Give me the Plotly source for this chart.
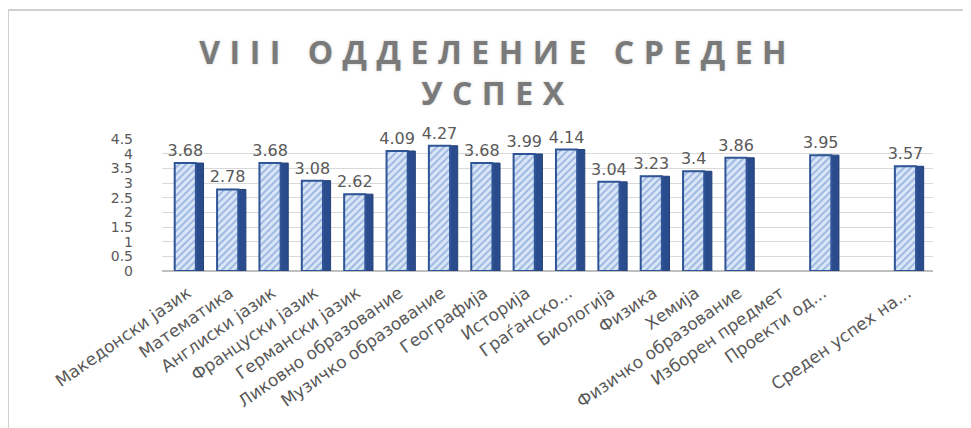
import plotly.graph_objects as go

categories = ["Македонски јазик", "Математика", "Англиски јазик", "Француски јазик",
              "Германски јазик", "Ликовно образование", "Музичко образование", "Географија",
              "Историја", "Граѓанско...", "Биологија", "Физика", "Хемија",
              "Физичко образование", "Изборен предмет", "Проекти од...", " ", "Среден успех на..."]
values = [3.68, 2.78, 3.68, 3.08, 2.62, 4.09, 4.27, 3.68, 3.99, 4.14, 3.04, 3.23, 3.4,
          3.86, None, 3.95, None, 3.57]
labels = ["" if v is None else f"{v:g}" for v in values]
y_ticks = [0, 0.5, 1, 1.5, 2, 2.5, 3, 3.5, 4, 4.5]
y_ticklabels = ["0", "0.5", "1", "1.5", "2", "2.5", "3", "3.5", "4", "4.5"]
title_lines = ["VIII ОДДЕЛЕНИЕ СРЕДЕН", "УСПЕХ"]

W, H = 971, 428
L, R, T, B = 154, 46, 131, 165

fig = go.Figure()
# dark side of the pseudo-3D bars
fig.add_trace(go.Bar(
    x=categories, y=values, width=0.5, offset=-0.12,
    marker=dict(color="#2b4c8c", line=dict(color="#23407a", width=1)),
    hoverinfo="skip", showlegend=False,
))
# front face with hatch
fig.add_trace(go.Bar(
    x=categories, y=values, width=0.5, offset=-0.3,
    marker=dict(
        color="#c5d9f1",
        line=dict(color="#2f5597", width=2),
        pattern=dict(shape="/", fgcolor="#5a84cc", bgcolor="#d9e6f6", size=5, solidity=0.35),
    ),
    text=labels, textposition="outside", cliponaxis=False, constraintext="none",
    textfont=dict(family="DejaVu Sans", size=16, color="#595959"),
    showlegend=False,
))

px_x = lambda p: (p - L) / (W - L - R)
px_y = lambda p: (H - B - p) / (H - T - B)

title_font = dict(family="Open Sans", size=32, color="#7a7a7a", weight="bold",
                  shadow="0px 0px 3px rgba(120,120,120,0.35)")
annotations = [
    dict(text=title_lines[0], x=px_x(489), y=px_y(44), xref="paper", yref="paper",
         xanchor="center", yanchor="middle", showarrow=False, font=title_font),
    dict(text=title_lines[1], x=px_x(489), y=px_y(84), xref="paper", yref="paper",
         xanchor="center", yanchor="middle", showarrow=False, font=title_font),
]

fig.update_layout(
    width=W, height=H,
    margin=dict(l=L, r=R, t=T, b=B, autoexpand=False),
    paper_bgcolor="white", plot_bgcolor="white",
    barmode="overlay", bargap=0.5,
    annotations=annotations,
    xaxis=dict(type="category", tickangle=-35, showgrid=False, showline=False,
               ticks="", ticklabelstandoff=8,
               tickfont=dict(family="DejaVu Sans", size=17, color="#595959"),
               range=[-0.6, len(categories) - 0.4]),
    yaxis=dict(range=[0, 4.5], tickvals=y_ticks, ticktext=y_ticklabels,
               showgrid=True, gridcolor="#d9d9d9", gridwidth=1,
               zeroline=True, zerolinecolor="#bfbfbf", zerolinewidth=2,
               showline=False, ticks="", ticklabelstandoff=28,
               tickfont=dict(family="DejaVu Sans", size=14, color="#595959")),
    shapes=[
        dict(type="line", xref="paper", yref="paper", x0=px_x(0), x1=px_x(W), y0=px_y(2), y1=px_y(2),
             line=dict(color="#d0d0d0", width=2)),
        dict(type="line", xref="paper", yref="paper", x0=px_x(0), x1=px_x(0), y0=px_y(2), y1=px_y(H),
             line=dict(color="#d0d0d0", width=2)),
    ],
)

post = """
var gd = document.getElementById('{plot_id}');
gd.querySelectorAll('.annotation-text').forEach(function(t){
  t.style.letterSpacing = '9.5px';
});
"""
fig.write_html("out.html", post_script=post)
